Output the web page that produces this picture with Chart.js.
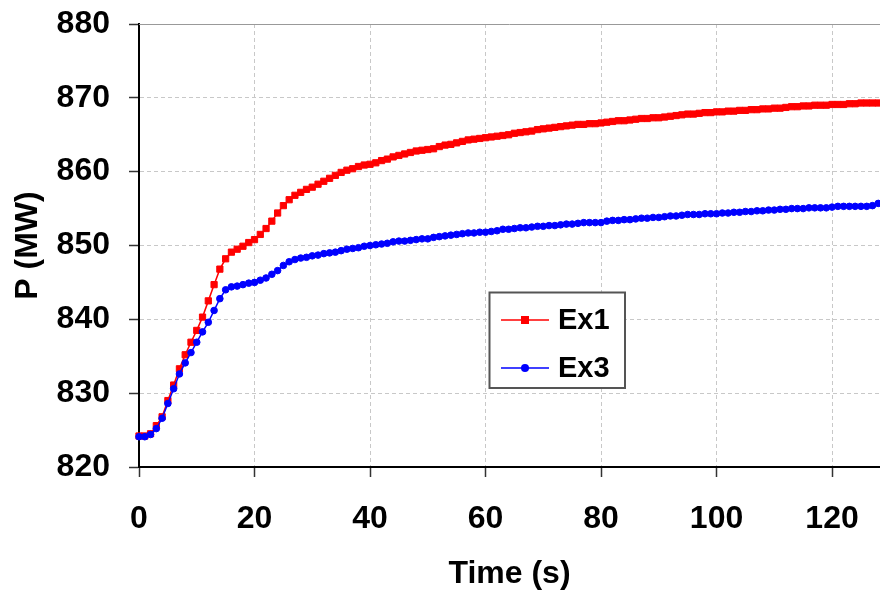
<!DOCTYPE html>
<html>
<head>
<meta charset="utf-8">
<script src="https://cdn.jsdelivr.net/npm/chart.js@4/dist/chart.umd.min.js"></script>
<style>
html,body{margin:0;padding:0;background:#fff;}
#wrap{width:880px;height:593px;}
</style>
</head>
<body>
<div id="wrap"><canvas id="c" width="880" height="593"></canvas></div>
<script>
// Time (s), one sample per second
const timeSec = [];
for (let i = 0; i <= 128; i++) timeSec.push(i);

const ex1Values = [
824.2,824.2,824.5,825.6,826.8,829.0,831.1,833.3,835.2,836.9,
838.5,840.3,842.5,844.7,846.8,848.2,849.1,849.5,849.9,850.4,
850.8,851.5,852.3,853.3,854.4,855.4,856.2,856.8,857.2,857.6,
857.9,858.3,858.7,859.1,859.5,859.9,860.2,860.4,860.7,860.9,
861.0,861.2,861.5,861.7,862.0,862.2,862.4,862.6,862.8,862.9,
863.0,863.1,863.4,863.6,863.7,863.9,864.1,864.3,864.4,864.5,
864.6,864.7,864.8,864.9,865.0,865.2,865.3,865.4,865.5,865.7,
865.8,865.9,866.0,866.1,866.2,866.3,866.4,866.4,866.5,866.5,
866.6,866.7,866.8,866.9,866.9,867.0,867.1,867.2,867.2,867.3,
867.3,867.4,867.5,867.6,867.7,867.8,867.8,867.9,868.0,868.0,
868.1,868.1,868.2,868.2,868.3,868.3,868.4,868.4,868.5,868.5,
868.6,868.6,868.7,868.8,868.8,868.9,868.9,869.0,869.0,869.0,
869.1,869.1,869.1,869.2,869.2,869.3,869.3,869.3,869.3
];

const ex3Values = [
824.1,824.1,824.4,825.2,826.6,828.6,830.6,832.6,834.1,835.5,
836.9,838.3,839.6,841.2,842.8,844.0,844.4,844.5,844.7,844.9,
845.0,845.3,845.6,846.1,846.6,847.3,847.8,848.1,848.3,848.4,
848.6,848.7,848.9,849.0,849.1,849.3,849.5,849.6,849.7,849.9,
850.0,850.1,850.2,850.3,850.5,850.6,850.6,850.7,850.8,850.9,
850.9,851.1,851.2,851.3,851.4,851.5,851.6,851.7,851.7,851.8,
851.8,851.9,852.0,852.2,852.2,852.3,852.4,852.4,852.5,852.6,
852.6,852.7,852.7,852.8,852.9,852.9,853.0,853.1,853.1,853.1,
853.1,853.3,853.4,853.4,853.5,853.5,853.6,853.7,853.7,853.8,
853.8,853.9,854.0,854.0,854.1,854.2,854.2,854.2,854.3,854.3,
854.3,854.4,854.4,854.5,854.5,854.6,854.6,854.7,854.7,854.8,
854.8,854.9,854.9,855.0,855.0,855.0,855.1,855.1,855.1,855.1,
855.2,855.3,855.3,855.3,855.3,855.3,855.3,855.4,855.7
];

const xTickLabels = [0, 20, 40, 60, 80, 100, 120];
const yTickLabels = [820, 830, 840, 850, 860, 870, 880];
const seriesNames = ['Ex1', 'Ex3'];

const FONT = "'Liberation Sans', Arial, sans-serif";

const toPts = (vals) => vals.map((v, i) => ({x: timeSec[i], y: v}));

const legendPlugin = {
  id: 'boxLegend',
  afterDraw(chart) {
    const ctx = chart.ctx;
    const L = 489.5, T = 292.5, R = 625, B = 388;
    ctx.save();
    ctx.fillStyle = '#ffffff';
    ctx.fillRect(L, T, R - L, B - T);
    ctx.strokeStyle = '#555555';
    ctx.lineWidth = 2;
    ctx.strokeRect(L, T, R - L, B - T);
    const rows = [320, 368];
    chart.data.datasets.forEach((ds, i) => {
      const y = rows[i];
      ctx.strokeStyle = ds.borderColor;
      ctx.lineWidth = 1.5;
      ctx.beginPath();
      ctx.moveTo(501, y);
      ctx.lineTo(549, y);
      ctx.stroke();
      ctx.fillStyle = ds.pointBackgroundColor;
      if (ds.pointStyle === 'rect') {
        ctx.fillRect(525 - 4, y - 4, 8, 8);
      } else {
        ctx.beginPath();
        ctx.arc(525, y, 4, 0, Math.PI * 2);
        ctx.fill();
      }
      ctx.fillStyle = '#000';
      ctx.font = 'bold 29px ' + FONT;
      ctx.textAlign = 'left';
      ctx.textBaseline = 'middle';
      ctx.fillText(ds.label, 558, y + 1);
    });
    ctx.restore();
  }
};

const topBorderPlugin = {
  id: 'topBorder',
  beforeDatasetsDraw(chart) {
    const {ctx, chartArea} = chart;
    ctx.save();
    ctx.strokeStyle = '#999999';
    ctx.lineWidth = 1;
    ctx.beginPath();
    ctx.moveTo(chartArea.left, chartArea.top + 0.5);
    ctx.lineTo(chartArea.right, chartArea.top + 0.5);
    ctx.stroke();
    ctx.restore();
  }
};

new Chart(document.getElementById('c'), {
  type: 'line',
  data: {
    datasets: [
      {
        label: seriesNames[0],
        data: toPts(ex1Values),
        borderColor: '#FF0000',
        backgroundColor: '#FF0000',
        pointBackgroundColor: '#FF0000',
        pointBorderColor: '#FF0000',
        pointStyle: 'rect',
        pointRadius: 4.4,
        pointBorderWidth: 1,
        borderWidth: 1.5,
        order: 2
      },
      {
        label: seriesNames[1],
        data: toPts(ex3Values),
        borderColor: '#0000FF',
        backgroundColor: '#0000FF',
        pointBackgroundColor: '#0000FF',
        pointBorderColor: '#0000FF',
        pointStyle: 'circle',
        pointRadius: 3.3,
        pointBorderWidth: 1,
        borderWidth: 1.5,
        order: 1
      }
    ]
  },
  options: {
    responsive: false,
    devicePixelRatio: 1,
    animation: false,
    clip: false,
    layout: {autoPadding: false, padding: {top: 24, right: 0, bottom: 0, left: 0}},
    plugins: {legend: {display: false}, tooltip: {enabled: false}},
    scales: {
      x: {
        type: 'linear',
        min: 0,
        max: 128.3,
        afterFit(scale) { scale.height = 126; scale.paddingLeft = 0; scale.paddingRight = 0; },
        afterBuildTicks(scale) { scale.ticks = xTickLabels.map(v => ({value: v})); },
        ticks: {
          color: '#000',
          font: {family: FONT, size: 32, weight: 'bold'},
          padding: 23,
          maxRotation: 0,
          autoSkip: false
        },
        grid: {
          color: '#c8c8c8',
          lineWidth: 1,
          tickColor: '#333',
          tickLength: 10,
          tickWidth: 1.5
        },
        border: {display: true, color: '#000', width: 2, dash: [4, 3]},
        title: {
          display: true,
          text: 'Time (s)',
          color: '#000',
          font: {family: FONT, size: 32, weight: 'bold'},
          padding: {top: 0, bottom: 0}
        }
      },
      y: {
        type: 'linear',
        min: 820,
        max: 880,
        afterFit(scale) { scale.width = 139; scale.paddingTop = 0; scale.paddingBottom = 0; },
        afterBuildTicks(scale) { scale.ticks = yTickLabels.map(v => ({value: v})); },
        ticks: {
          color: '#000',
          font: {family: FONT, size: 32, weight: 'bold'},
          padding: 19
        },
        grid: {
          color: '#c8c8c8',
          lineWidth: 1,
          tickColor: '#333',
          tickLength: 10,
          tickWidth: 1.5
        },
        border: {display: true, color: '#000', width: 2, dash: [4, 3]},
        title: {
          display: true,
          text: 'P (MW)',
          color: '#000',
          font: {family: FONT, size: 32, weight: 'bold'},
          padding: {top: 9, bottom: 0}
        }
      }
    }
  },
  plugins: [topBorderPlugin, legendPlugin]
});
</script>
</body>
</html>
